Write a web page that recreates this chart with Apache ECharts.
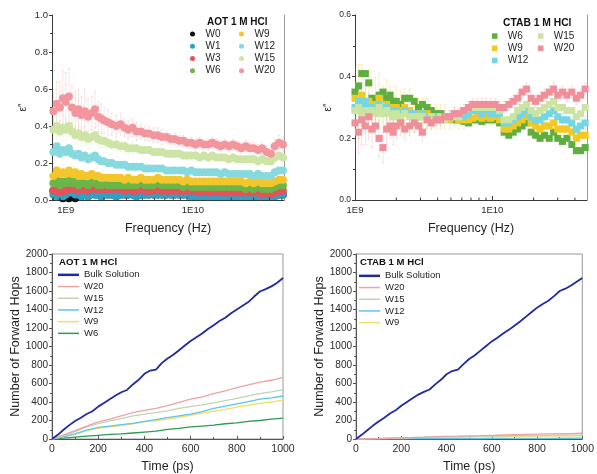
<!DOCTYPE html>
<html>
<head>
<meta charset="utf-8">
<script src="https://cdn.jsdelivr.net/npm/echarts@6/dist/echarts.min.js"></script>
<style>
html,body{margin:0;padding:0;background:#fff}
#chart{width:597px;height:474px}
</style>
</head>
<body>
<div id="chart"></div>
<script>
// ---------- Dielectric loss ε″ vs frequency (GHz) ----------
const freqGHz = [0.80,0.85,0.90,0.95,1.00,1.06,1.12,1.19,1.26,1.33,1.41,1.50,1.60,1.70,1.80,1.90,
  2.00,2.15,2.30,2.50,2.70,2.90,3.10,3.35,3.60,3.90,4.20,4.50,4.90,5.30,5.70,6.20,6.70,7.20,7.80,8.40,9.00,9.70,
  10.5,11.3,12.2,13.2,14.2,15.3,16.5,17.8,19.2,20.7,22.3,24.0,26.0,28.0,30.0,32.5,35.0,38.0,41.0,44.0,47.5,51.0];

const aotW0 = [0.05,0.03,0.02,0.01,0.02,0.01,0.02,0.01,0.03,0.02,
  0.03,0.02,0.04,0.03,0.03,0.02,0.03,0.03,0.03,0.02,
  0.03,0.03,0.03,0.03,0.02,0.03,0.03,0.03,0.03,0.03,
  0.03,0.03,0.03,0.03,0.03,0.03,0.03,0.02,0.02,0.02,
  0.02,0.02,0.02,0.02,0.02,0.02,0.02,0.02,0.02,0.02,
  0.02,0.02,0.02,0.02,0.02,0.02,0.02,0.02,0.03,0.03];
const aotW1 = [0.03,0.02,0.04,0.02,0.03,0.04,0.04,0.03,0.03,0.02,
  0.03,0.02,0.04,0.03,0.03,0.02,0.03,0.03,0.03,0.02,
  0.03,0.03,0.03,0.03,0.02,0.03,0.03,0.03,0.03,0.03,
  0.03,0.03,0.03,0.03,0.03,0.03,0.03,0.02,0.02,0.02,
  0.02,0.02,0.02,0.02,0.02,0.02,0.02,0.02,0.02,0.02,
  0.02,0.02,0.02,0.02,0.02,0.02,0.02,0.02,0.03,0.03];
const aotW3 = [0.05,0.07,0.04,0.06,0.05,0.07,0.06,0.07,0.05,0.06,
  0.06,0.05,0.07,0.06,0.06,0.06,0.06,0.06,0.06,0.06,
  0.06,0.05,0.06,0.05,0.05,0.06,0.05,0.05,0.05,0.06,
  0.05,0.05,0.05,0.05,0.05,0.05,0.05,0.05,0.05,0.04,
  0.05,0.04,0.04,0.05,0.04,0.04,0.04,0.04,0.04,0.04,
  0.04,0.04,0.04,0.04,0.03,0.04,0.03,0.04,0.05,0.05];
const aotW6 = [0.09,0.11,0.08,0.10,0.09,0.11,0.09,0.10,0.08,0.09,
  0.09,0.08,0.10,0.09,0.08,0.08,0.09,0.08,0.08,0.08,
  0.08,0.08,0.08,0.08,0.08,0.09,0.08,0.08,0.08,0.09,
  0.08,0.08,0.08,0.08,0.08,0.07,0.08,0.07,0.07,0.07,
  0.07,0.07,0.07,0.07,0.07,0.07,0.07,0.07,0.07,0.07,
  0.06,0.07,0.06,0.07,0.06,0.06,0.06,0.07,0.08,0.08];
const aotW9 = [0.13,0.16,0.14,0.15,0.14,0.16,0.14,0.15,0.13,0.14,
  0.13,0.13,0.14,0.13,0.13,0.12,0.12,0.12,0.12,0.12,
  0.12,0.11,0.12,0.11,0.11,0.12,0.11,0.11,0.11,0.12,
  0.11,0.11,0.11,0.11,0.11,0.10,0.11,0.10,0.10,0.10,
  0.10,0.10,0.10,0.10,0.10,0.10,0.10,0.10,0.10,0.10,
  0.09,0.10,0.09,0.10,0.09,0.09,0.09,0.10,0.11,0.11];
const aotW12 = [0.26,0.29,0.25,0.27,0.26,0.28,0.25,0.24,0.25,0.23,
  0.24,0.22,0.23,0.24,0.22,0.21,0.21,0.20,0.20,0.19,
  0.19,0.19,0.18,0.18,0.18,0.18,0.17,0.17,0.17,0.17,
  0.17,0.16,0.16,0.16,0.16,0.16,0.15,0.16,0.15,0.15,
  0.15,0.15,0.15,0.15,0.14,0.15,0.14,0.14,0.14,0.14,
  0.14,0.14,0.13,0.14,0.13,0.13,0.13,0.15,0.16,0.16];
const aotW15 = [0.38,0.40,0.37,0.39,0.38,0.40,0.37,0.35,0.36,0.34,
  0.35,0.33,0.34,0.35,0.33,0.32,0.32,0.31,0.30,0.30,
  0.29,0.29,0.28,0.28,0.28,0.27,0.27,0.27,0.26,0.26,
  0.26,0.25,0.25,0.25,0.25,0.24,0.24,0.24,0.24,0.23,
  0.24,0.23,0.24,0.23,0.23,0.23,0.22,0.23,0.22,0.22,
  0.22,0.22,0.22,0.21,0.22,0.21,0.21,0.23,0.24,0.23];
const aotW20 = [0.48,0.52,0.50,0.55,0.53,0.56,0.50,0.47,0.49,0.46,
  0.48,0.45,0.47,0.49,0.45,0.44,0.43,0.42,0.41,0.40,
  0.41,0.39,0.38,0.39,0.37,0.37,0.36,0.36,0.35,0.35,
  0.34,0.34,0.33,0.33,0.32,0.32,0.31,0.31,0.30,0.31,
  0.30,0.30,0.31,0.30,0.29,0.30,0.29,0.30,0.29,0.28,
  0.29,0.28,0.28,0.27,0.28,0.26,0.25,0.29,0.31,0.30];
// error bar half-widths
const aotErrW15 = [0.06,0.07,0.06,0.07,0.06,0.06,0.05,0.05,0.05,0.05,
  0.05,0.04,0.04,0.04,0.04,0.04,0.03,0.03,0.03,0.03,
  0.03,0.03,0.03,0.03,0.02,0.02,0.02,0.02,0.02,0.02,
  0.02,0.02,0.02,0.02,0.02,0.02,0.02,0.02,0.02,0.02,
  0.02,0.02,0.02,0.02,0.02,0.02,0.02,0.02,0.02,0.02,
  0.02,0.02,0.02,0.02,0.02,0.02,0.02,0.02,0.02,0.02];
const aotErrW20 = [0.10,0.12,0.14,0.15,0.16,0.15,0.12,0.12,0.11,0.10,
  0.12,0.10,0.09,0.10,0.08,0.08,0.07,0.07,0.06,0.06,
  0.06,0.05,0.05,0.05,0.05,0.04,0.04,0.04,0.04,0.04,
  0.04,0.03,0.03,0.03,0.03,0.03,0.03,0.03,0.03,0.03,
  0.03,0.03,0.03,0.03,0.03,0.03,0.03,0.03,0.03,0.03,
  0.03,0.03,0.03,0.03,0.03,0.03,0.04,0.04,0.04,0.04];

const ctabFreqGHz = [1.00,1.06,1.12,1.19,1.26,1.33,1.41,1.50,1.60,1.70,1.80,1.90,
  2.00,2.15,2.30,2.50,2.70,2.90,3.10,3.35,3.60,3.90,4.20,4.50,4.90,5.30,5.70,6.20,6.70,7.20,7.80,8.40,9.00,9.70,
  10.5,11.3,12.2,13.2,14.2,15.3,16.5,17.8,19.2,20.7,22.3,24.0,26.0,28.0,30.0,32.5,35.0,38.0,41.0,44.0,47.5,51.0];
const ctabW6 = [0.35,0.37,0.41,0.41,0.38,0.33,0.32,0.34,0.35,0.33,
  0.34,0.32,0.32,0.31,0.33,0.33,0.32,0.30,0.31,0.30,
  0.29,0.28,0.28,0.27,0.27,0.26,0.26,0.255,0.25,0.26,
  0.26,0.255,0.26,0.26,0.26,0.25,0.22,0.21,0.22,0.23,
  0.24,0.25,0.22,0.21,0.20,0.21,0.20,0.22,0.20,0.19,
  0.20,0.18,0.16,0.16,0.17,0.17];
const ctabW9 = [0.33,0.32,0.34,0.31,0.32,0.30,0.31,0.33,0.30,0.31,
  0.30,0.29,0.30,0.29,0.30,0.29,0.28,0.28,0.28,0.28,
  0.27,0.27,0.27,0.27,0.26,0.27,0.26,0.26,0.26,0.265,
  0.27,0.265,0.27,0.265,0.27,0.26,0.23,0.23,0.24,0.25,
  0.26,0.27,0.25,0.24,0.23,0.24,0.24,0.25,0.23,0.23,
  0.23,0.22,0.20,0.21,0.21,0.21];
const ctabW12 = [0.30,0.32,0.31,0.32,0.30,0.29,0.30,0.31,0.29,0.30,
  0.29,0.28,0.29,0.28,0.29,0.28,0.28,0.27,0.28,0.27,
  0.27,0.27,0.27,0.27,0.27,0.27,0.27,0.27,0.28,0.29,
  0.29,0.28,0.29,0.28,0.28,0.28,0.25,0.25,0.26,0.27,
  0.28,0.29,0.27,0.26,0.26,0.27,0.28,0.29,0.27,0.26,
  0.26,0.25,0.23,0.24,0.25,0.25];
const ctabW15 = [0.29,0.30,0.28,0.29,0.28,0.29,0.28,0.30,0.28,0.29,
  0.28,0.27,0.28,0.27,0.28,0.27,0.27,0.27,0.27,0.26,
  0.27,0.26,0.27,0.26,0.27,0.27,0.27,0.29,0.30,0.30,
  0.30,0.30,0.30,0.30,0.30,0.29,0.26,0.26,0.27,0.29,
  0.30,0.31,0.29,0.28,0.29,0.30,0.31,0.32,0.30,0.30,
  0.29,0.29,0.27,0.28,0.30,0.30];
const ctabW20 = [0.25,0.22,0.26,0.24,0.27,0.23,0.24,0.20,0.17,0.23,
  0.24,0.22,0.24,0.25,0.23,0.24,0.25,0.24,0.22,0.26,
  0.25,0.26,0.26,0.27,0.27,0.28,0.28,0.29,0.30,0.31,
  0.31,0.31,0.31,0.31,0.31,0.30,0.30,0.31,0.32,0.33,
  0.35,0.36,0.33,0.32,0.33,0.34,0.35,0.36,0.34,0.35,
  0.34,0.35,0.33,0.34,0.36,0.37];
const ctabErrW9 = [0.10,0.12,0.10,0.09,0.10,0.08,0.09,0.08,0.07,0.08,
  0.07,0.06,0.07,0.06,0.06,0.07,0.06,0.05,0.05,0.05,
  0.04,0.04,0.04,0.04,0.03,0.03,0.03,0.03,0.02,0.02,
  0.02,0.02,0.02,0.02,0.02,0.02,0.02,0.02,0.02,0.02,
  0.02,0.02,0.02,0.02,0.02,0.02,0.02,0.02,0.02,0.02,
  0.02,0.02,0.02,0.02,0.02,0.02];
const ctabErrW12 = [0.08,0.06,0.07,0.06,0.05,0.05,0.04,0.04,0.04,0.04,
  0.03,0.03,0.03,0.03,0.02,0.02,0.02,0.02,0.02,0.02,
  0.02,0.02,0.02,0.02,0.02,0.02,0.02,0.02,0.02,0.02,
  0.02,0.02,0.02,0.02,0.02,0.02,0.02,0.02,0.02,0.02,
  0.02,0.02,0.02,0.02,0.02,0.02,0.02,0.02,0.02,0.02,
  0.02,0.02,0.02,0.02,0.02,0.02];
const ctabErrW20 = [0.08,0.07,0.08,0.06,0.07,0.06,0.05,0.06,0.05,0.05,
  0.04,0.04,0.04,0.04,0.03,0.03,0.03,0.03,0.03,0.03,
  0.02,0.02,0.02,0.02,0.02,0.02,0.02,0.02,0.02,0.02,
  0.02,0.02,0.02,0.02,0.02,0.02,0.02,0.02,0.02,0.02,
  0.02,0.02,0.02,0.02,0.02,0.02,0.02,0.02,0.02,0.02,
  0.02,0.02,0.02,0.02,0.02,0.02];

// minor ticks of the logarithmic frequency axes (GHz)
const logMinorTicksGHz = [0.8,0.9,2,3,4,5,6,7,8,9,20,30,40,50];

// ---------- Forward hops vs time (ps) ----------
const timeFine = [0,25,50,75,100,125,150,175,200,225,250,275,300,325,350,375,400,425,450,475,500,
  525,550,575,600,625,650,675,700,725,750,775,800,825,850,875,900,925,950,975,1000];
const timeCoarse = [0,50,100,150,200,250,300,350,400,450,500,550,600,650,700,750,800,850,900,950,1000];

const aotBulk = [0,45,100,150,195,230,270,300,350,390,430,470,505,530,590,640,705,740,750,820,870,
  910,960,1010,1060,1100,1140,1190,1230,1275,1310,1360,1400,1440,1480,1540,1595,1620,1650,1690,1740];
const aotHopW20 = [0,45,90,140,185,215,250,285,310,330,360,395,430,455,490,520,555,585,615,635,665];
const aotHopW15 = [0,35,80,130,165,195,220,250,270,285,305,330,350,370,390,415,440,465,490,510,535];
const aotHopW12 = [0,25,55,95,125,140,155,170,190,210,230,250,270,295,330,355,380,405,430,445,465];
const aotHopW9  = [0,25,50,90,115,130,145,165,185,200,215,235,255,280,300,320,345,365,385,400,420];
const aotHopW6  = [0,10,20,30,40,50,55,65,75,85,105,115,130,140,150,165,175,190,200,215,225];

const ctabBulk = [0,45,95,145,190,230,275,310,360,400,440,480,510,535,590,640,700,735,750,810,865,
  905,955,1005,1055,1095,1140,1180,1225,1270,1320,1370,1420,1460,1495,1545,1600,1625,1660,1700,1740];
const ctabHopW20 = [0,3,6,10,13,16,20,25,28,30,33,36,40,43,46,49,52,55,57,59,62];
const ctabHopW15 = [0,2,5,8,11,14,18,22,25,26,28,30,32,34,36,37,38,39,40,41,42];
const ctabHopW12 = [0,1,1,2,2,3,3,4,4,5,5,5,6,6,6,7,7,7,8,8,8];
const ctabHopW9  = [0,2,4,6,8,10,12,14,16,18,20,22,24,26,28,30,31,32,33,34,35];

// ---------- styling ----------
const FONT = 'Liberation Sans, Arial, Helvetica, sans-serif';
const AXIS = '#3a3a3a';
const FRAME = '#9a9a9a';
const TEXT = '#1e1e1e';

const aotColors = {W0:'#111111', W1:'#2aa3c9', W3:'#e8505a', W6:'#6cb548', W9:'#f3c72c',
  W12:'#86d9df', W15:'#cde4a6', W20:'#f2959d'};
const ctabColors = {W6:'#5fae3e', W9:'#f2c823', W12:'#74d6e2', W15:'#cbe4a2', W20:'#f08e99'};
const hopColors = {Bulk:'#1f2b9e', W20:'#eba3a8', W15:'#c3d3b4', W12:'#5cc6ea', W9:'#f3df68', W6:'#2c9a52'};

const pairs = (xs, ys) => xs.map((x, i) => [x, ys[i]]);
const stripKey = n => n.slice(n.indexOf(':') + 1);

function scatterSeries(grid, key, label, xs, ys, color, symbol, size, z) {
  return {
    type: 'scatter', name: key + ':' + label, xAxisIndex: grid, yAxisIndex: grid,
    data: pairs(xs, ys), symbol, symbolSize: size,
    itemStyle: {color, opacity: 1}, z, silent: true, animation: false
  };
}

function errorSeries(grid, xs, ys, errs, color) {
  return {
    type: 'custom', xAxisIndex: grid, yAxisIndex: grid, clip: true, z: 1, silent: true,
    animation: false,
    data: xs.map((x, i) => [x, ys[i], errs[i]]),
    encode: {x: 0, y: 1},
    renderItem(params, api) {
      const x = api.value(0), y = api.value(1), e = api.value(2);
      const a = api.coord([x, y + e]);
      const b = api.coord([x, Math.max(y - e, 0)]);
      const st = {stroke: color, lineWidth: 0.8, opacity: 0.35};
      return {type: 'group', children: [
        {type: 'line', shape: {x1: a[0], y1: a[1], x2: b[0], y2: b[1]}, style: st},
        {type: 'line', shape: {x1: a[0] - 1.2, y1: a[1], x2: a[0] + 1.2, y2: a[1]}, style: st},
        {type: 'line', shape: {x1: b[0] - 1.2, y1: b[1], x2: b[0] + 1.2, y2: b[1]}, style: st}
      ]};
    }
  };
}

function logTickSeries(grid) {
  return {
    type: 'custom', xAxisIndex: grid, yAxisIndex: grid, clip: true, z: 5, silent: true,
    animation: false,
    data: logMinorTicksGHz.map(f => [f, 0]),
    encode: {x: 0, y: 1},
    renderItem(params, api) {
      const p = api.coord([api.value(0), 0]);
      return {type: 'line', shape: {x1: p[0], y1: p[1], x2: p[0], y2: p[1] - 2.5},
        style: {stroke: AXIS, lineWidth: 1}};
    }
  };
}

function lineSeries(grid, key, label, xs, ys, color, width) {
  return {
    type: 'line', name: key + ':' + label, xAxisIndex: grid, yAxisIndex: grid,
    data: pairs(xs, ys), symbol: 'none', showSymbol: false, color,
    lineStyle: {color, width}, z: label === 'Bulk Solution' ? 4 : 3,
    silent: true, animation: false
  };
}

const logLabel = v => '1E' + (9 + Math.round(Math.log10(v)));

function freqAxis(grid, min, max, showMin) {
  return {
    type: 'log', logBase: 10, gridIndex: grid, min, max,
    name: 'Frequency (Hz)', nameLocation: 'middle', nameGap: 22,
    nameTextStyle: {fontFamily: FONT, fontSize: 12.5, color: TEXT},
    axisLine: {show: true, lineStyle: {color: AXIS, width: 1}},
    axisTick: {show: true, inside: true, length: 4, lineStyle: {color: AXIS}},
    minorTick: {show: false},
    axisLabel: {fontFamily: FONT, fontSize: 9.5, color: '#2a2a2a', margin: 5,
      showMinLabel: showMin, showMaxLabel: false, formatter: logLabel},
    splitLine: {show: false}, minorSplitLine: {show: false}
  };
}

function epsAxis(grid, max, gap, fs) {
  return {
    type: 'value', gridIndex: grid, min: 0, max, interval: 0.2,
    name: 'ε″', nameLocation: 'middle', nameGap: gap, nameRotate: 90,
    nameTextStyle: {fontFamily: FONT, fontSize: 10, color: TEXT},
    axisLine: {show: true, lineStyle: {color: AXIS, width: 1}},
    axisTick: {show: true, inside: false, length: 3, lineStyle: {color: AXIS}},
    minorTick: {show: true, splitNumber: 2, length: 2, lineStyle: {color: AXIS}},
    axisLabel: {fontFamily: FONT, fontSize: fs, color: '#2a2a2a', margin: 4,
      formatter: v => v.toFixed(1)},
    splitLine: {show: false}
  };
}

function rightBorder(grid) {
  return {
    type: 'value', gridIndex: grid, position: 'right', min: 0, max: 1,
    axisLine: {show: true, onZero: false, lineStyle: {color: FRAME, width: 1}},
    axisTick: {show: false}, axisLabel: {show: false}, splitLine: {show: false}
  };
}

function timeAxis(grid) {
  return {
    type: 'value', gridIndex: grid, min: 0, max: 1000, interval: 200,
    name: 'Time (ps)', nameLocation: 'middle', nameGap: 21,
    nameTextStyle: {fontFamily: FONT, fontSize: 12.5, color: TEXT},
    axisLine: {show: true, lineStyle: {color: '#555', width: 1}},
    axisTick: {show: true, inside: true, length: 3, lineStyle: {color: '#555'}},
    minorTick: {show: true, splitNumber: 2, length: 2, lineStyle: {color: '#555'}},
    axisLabel: {fontFamily: FONT, fontSize: 10.5, color: '#2a2a2a', margin: 5,
      formatter: v => String(v)},
    splitLine: {show: false}
  };
}

function hopsAxis(grid, gap) {
  return {
    type: 'value', gridIndex: grid, min: 0, max: 2000, interval: 200,
    name: 'Number of Forward Hops', nameLocation: 'middle', nameGap: gap, nameRotate: 90,
    nameTextStyle: {fontFamily: FONT, fontSize: 12.5, color: TEXT},
    axisLine: {show: true, lineStyle: {color: '#555', width: 1}},
    axisTick: {show: true, inside: false, length: 3, lineStyle: {color: '#555'}},
    minorTick: {show: true, splitNumber: 2, length: 2, lineStyle: {color: '#555'}},
    axisLabel: {fontFamily: FONT, fontSize: 10, color: '#2a2a2a', margin: 4,
      formatter: v => String(v)},
    splitLine: {show: false}
  };
}

const squareIcon = 'path://M0,0H10V10H0Z';

function scatterLegend(names, left, top, square) {
  return {
    orient: 'vertical', left, top, padding: 0, itemGap: 0,
    itemWidth: 16, itemHeight: square ? 5.5 : 5, selectedMode: false,
    symbolKeepAspect: true,
    data: names.map(n => square ? {name: n, icon: squareIcon} : {name: n, icon: 'circle'}),
    formatter: stripKey,
    textStyle: {fontFamily: FONT, fontSize: 10, lineHeight: 12.2, color: TEXT}
  };
}

function lineLegend(names, left, top, thick) {
  return {
    orient: 'vertical', left, top, padding: 0, itemGap: 0,
    itemWidth: 21, itemHeight: thick, selectedMode: false, icon: 'rect',
    data: names, formatter: stripKey,
    textStyle: {fontFamily: FONT, fontSize: 9.5, lineHeight: 11.7, color: TEXT}
  };
}

function heading(text, left, top, size) {
  return {type: 'text', left, top, silent: true,
    style: {text, font: 'bold ' + size + 'px ' + FONT, fill: '#111'}};
}

const series = [];
// AOT dielectric loss
series.push(errorSeries(0, freqGHz, aotW15, aotErrW15, aotColors.W15));
series.push(errorSeries(0, freqGHz, aotW20, aotErrW20, aotColors.W20));
[['W0', aotW0], ['W1', aotW1], ['W3', aotW3], ['W6', aotW6], ['W9', aotW9],
 ['W12', aotW12], ['W15', aotW15], ['W20', aotW20]].forEach(([n, ys], i) =>
  series.push(scatterSeries(0, 'aotE', n, freqGHz, ys, aotColors[n], 'circle', 8, 2 + i * 0.01)));
series.push(logTickSeries(0));
// CTAB dielectric loss
series.push(errorSeries(1, ctabFreqGHz, ctabW9, ctabErrW9, ctabColors.W9));
series.push(errorSeries(1, ctabFreqGHz, ctabW12, ctabErrW12, ctabColors.W12));
series.push(errorSeries(1, ctabFreqGHz, ctabW20, ctabErrW20, ctabColors.W20));
[['W6', ctabW6], ['W9', ctabW9], ['W12', ctabW12], ['W15', ctabW15], ['W20', ctabW20]]
  .forEach(([n, ys], i) =>
    series.push(scatterSeries(1, 'ctabE', n, ctabFreqGHz, ys, ctabColors[n], 'rect', 7, 2 + i * 0.01)));
series.push(logTickSeries(1));
// AOT forward hops
series.push(lineSeries(2, 'aotH', 'W6', timeCoarse, aotHopW6, hopColors.W6, 1.3));
series.push(lineSeries(2, 'aotH', 'W9', timeCoarse, aotHopW9, hopColors.W9, 1.3));
series.push(lineSeries(2, 'aotH', 'W12', timeCoarse, aotHopW12, hopColors.W12, 1.3));
series.push(lineSeries(2, 'aotH', 'W15', timeCoarse, aotHopW15, hopColors.W15, 1.3));
series.push(lineSeries(2, 'aotH', 'W20', timeCoarse, aotHopW20, hopColors.W20, 1.3));
series.push(lineSeries(2, 'aotH', 'Bulk Solution', timeFine, aotBulk, hopColors.Bulk, 1.8));
// CTAB forward hops
series.push(lineSeries(3, 'ctabH', 'W9', timeCoarse, ctabHopW9, hopColors.W9, 1.3));
series.push(lineSeries(3, 'ctabH', 'W12', timeCoarse, ctabHopW12, hopColors.W12, 1.3));
series.push(lineSeries(3, 'ctabH', 'W15', timeCoarse, ctabHopW15, hopColors.W15, 1.3));
series.push(lineSeries(3, 'ctabH', 'W20', timeCoarse, ctabHopW20, hopColors.W20, 1.3));
series.push(lineSeries(3, 'ctabH', 'Bulk Solution', timeFine, ctabBulk, hopColors.Bulk, 1.8));

const option = {
  backgroundColor: '#ffffff',
  animation: false,
  textStyle: {fontFamily: FONT},
  grid: [
    {left: 52, right: 313, top: 15, bottom: 274},
    {left: 355, right: 10, top: 15, bottom: 274},
    {left: 52, right: 314, top: 254, bottom: 34, show: true, borderColor: FRAME, borderWidth: 1},
    {left: 356, right: 10, top: 254, bottom: 34, show: true, borderColor: FRAME, borderWidth: 1}
  ],
  xAxis: [freqAxis(0, 0.78, 52, false), freqAxis(1, 1.0, 49, true), timeAxis(2), timeAxis(3)],
  yAxis: [epsAxis(0, 1.0, 24, 9.5), epsAxis(1, 0.6, 22, 8.5), hopsAxis(2, 28), hopsAxis(3, 27),
    rightBorder(0), rightBorder(1)],
  legend: [
    scatterLegend(['aotE:W0', 'aotE:W1', 'aotE:W3', 'aotE:W6'], 190, 28, false),
    scatterLegend(['aotE:W9', 'aotE:W12', 'aotE:W15', 'aotE:W20'], 239, 28, false),
    scatterLegend(['ctabE:W6', 'ctabE:W9', 'ctabE:W12'], 492, 30, true),
    scatterLegend(['ctabE:W15', 'ctabE:W20'], 538, 30, true),
    lineLegend(['aotH:Bulk Solution'], 58, 269, 2.5),
    lineLegend(['aotH:W20', 'aotH:W15', 'aotH:W12', 'aotH:W9', 'aotH:W6'], 58, 280.7, 1.5),
    lineLegend(['ctabH:Bulk Solution'], 359, 270, 2.5),
    lineLegend(['ctabH:W20', 'ctabH:W15', 'ctabH:W12', 'ctabH:W9'], 359, 281.7, 1.5)
  ],
  graphic: [
    heading('AOT 1 M HCl', 207, 17, 10),
    heading('CTAB 1 M HCl', 503, 18, 10.3),
    heading('AOT 1 M HCl', 59, 257, 9.6),
    heading('CTAB 1 M HCl', 360, 257, 9.6)
  ],
  series
};

const chart = echarts.init(document.getElementById('chart'), null, {renderer: 'canvas'});
chart.setOption(option);
</script>
</body>
</html>
